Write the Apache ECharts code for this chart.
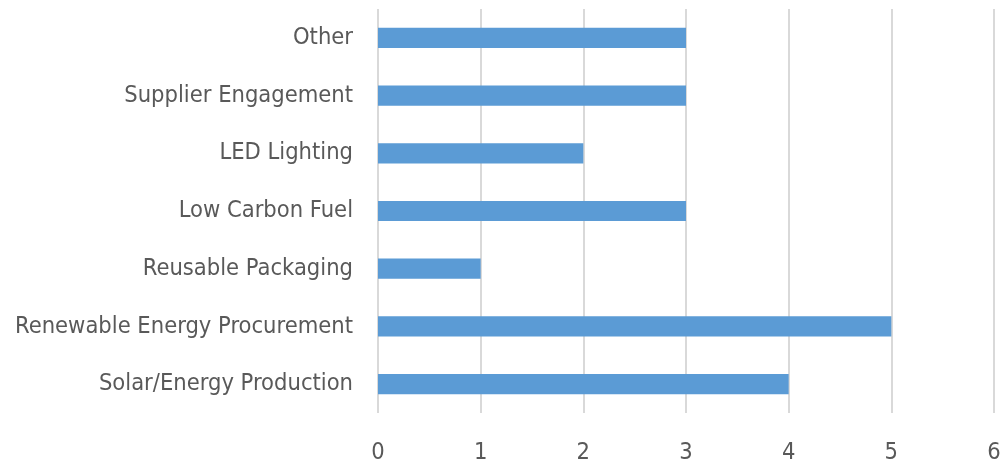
<!DOCTYPE html>
<html><head><meta charset="utf-8">
<script src="https://cdn.jsdelivr.net/npm/echarts@6/dist/echarts.min.js"></script>
<style>html,body{margin:0;padding:0;background:#fff}#c{width:1004px;height:466px}</style>
</head><body><div id="c"></div>
<script>
const categories = ["Solar/Energy Production","Renewable Energy Procurement","Reusable Packaging","Low Carbon Fuel","LED Lighting","Supplier Engagement","Other"];
const values = [4,5,1,3,2,3,3];
const xTicks = [0,1,2,3,4,5,6];
const font = "'DejaVu Sans Condensed', 'Liberation Sans Narrow', sans-serif";
const chart = echarts.init(document.getElementById('c'), null, {renderer:'canvas'});
chart.setOption({
  animation:false,
  grid:{left:378,right:10,top:9,bottom:53,containLabel:false},
  xAxis:{type:'value',min:xTicks[0],max:xTicks[xTicks.length-1],interval:1,
    axisLine:{show:false},axisTick:{show:false},
    splitLine:{show:true,lineStyle:{color:'#d9d9d9',width:2}},
    axisLabel:{color:'#595959',fontSize:23.5,fontFamily:font,margin:28}},
  yAxis:{type:'category',data:categories,
    axisLine:{show:false},axisTick:{show:false},
    axisLabel:{color:'#595959',fontSize:23.5,fontFamily:font,margin:25}},
  series:[{type:'bar',data:values,barWidth:'35%',itemStyle:{color:'#5B9BD5'}}]
});
</script></body></html>
